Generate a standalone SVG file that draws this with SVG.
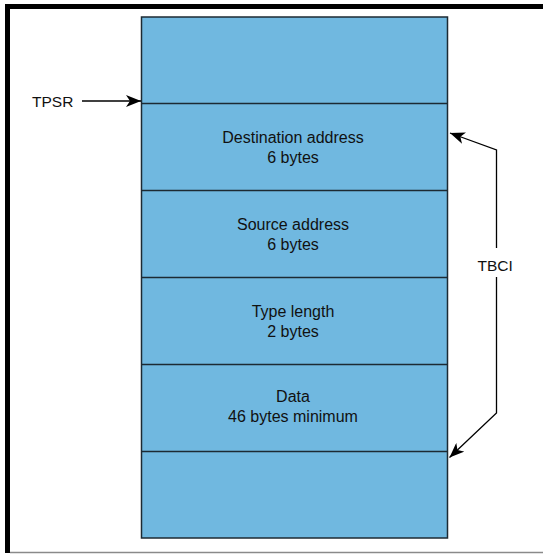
<svg xmlns="http://www.w3.org/2000/svg" width="543" height="554" viewBox="0 0 543 554">
  <style>
    .frame { fill: #000000; }
    .field { fill: #70b8e0; stroke: #1c2a33; stroke-width: 1.5; }
    .divider { stroke: #1c2a33; stroke-width: 1.4; fill: none; }
    .label { font-family: "Liberation Sans", Arial, Helvetica, sans-serif; font-size: 15.5px; fill: #111111; }
    .field-text { font-size: 16px; }
    .mid { text-anchor: middle; }
    .conn { stroke: #000000; stroke-width: 1.3; fill: none; }
  </style>
  <defs>
    <marker id="head" viewBox="0 0 16 12" refX="15" refY="6" markerWidth="16" markerHeight="12" markerUnits="userSpaceOnUse" orient="auto-start-reverse">
      <path d="M15,6 L0,0 L4,6 L0,12 Z" fill="#000000"/>
    </marker>
  </defs>

  <rect width="543" height="554" fill="#ffffff"/>

  <!-- page frame -->
  <g id="frame">
    <rect class="frame" x="5" y="4" width="538" height="5"/>
    <rect class="frame" x="5" y="4" width="5" height="549"/>
    <line x1="10" y1="552.5" x2="543" y2="552.5" stroke="#8a8a8a" stroke-width="1.5"/>
  </g>

  <!-- frame buffer block -->
  <g id="buffer">
    <rect class="field" x="141.5" y="17" width="306" height="521"/>
    <line class="divider" x1="141.5" y1="103.5" x2="447.5" y2="103.5"/>
    <line class="divider" x1="141.5" y1="190.5" x2="447.5" y2="190.5"/>
    <line class="divider" x1="141.5" y1="277.5" x2="447.5" y2="277.5"/>
    <line class="divider" x1="141.5" y1="364.5" x2="447.5" y2="364.5"/>
    <line class="divider" x1="141.5" y1="451.5" x2="447.5" y2="451.5"/>
  </g>

  <g id="dest">
    <text class="label field-text mid" x="293" y="142.5">Destination address</text>
    <text class="label field-text mid" x="293" y="162.5">6 bytes</text>
  </g>
  <g id="source">
    <text class="label field-text mid" x="293" y="229.5">Source address</text>
    <text class="label field-text mid" x="293" y="249.5">6 bytes</text>
  </g>
  <g id="typelen">
    <text class="label field-text mid" x="293" y="316.5">Type length</text>
    <text class="label field-text mid" x="293" y="336.5">2 bytes</text>
  </g>
  <g id="data">
    <text class="label field-text mid" x="293" y="402">Data</text>
    <text class="label field-text mid" x="293" y="422">46 bytes minimum</text>
  </g>

  <g id="tpsr">
    <text class="label" x="32" y="106.7">TPSR</text>
  </g>
  <g id="tbci">
    <text class="label" x="477.5" y="270.5">TBCI</text>
  </g>

  <!-- pointers -->
  <g id="connectors">
    <line class="conn" x1="82" y1="101" x2="141" y2="101" marker-end="url(#head)"/>
    <polyline class="conn" points="450,133 496.5,150 496.5,248" marker-start="url(#head)"/>
    <polyline class="conn" points="496.5,277 496.5,413 449.5,457.5" marker-end="url(#head)"/>
  </g>
</svg>
